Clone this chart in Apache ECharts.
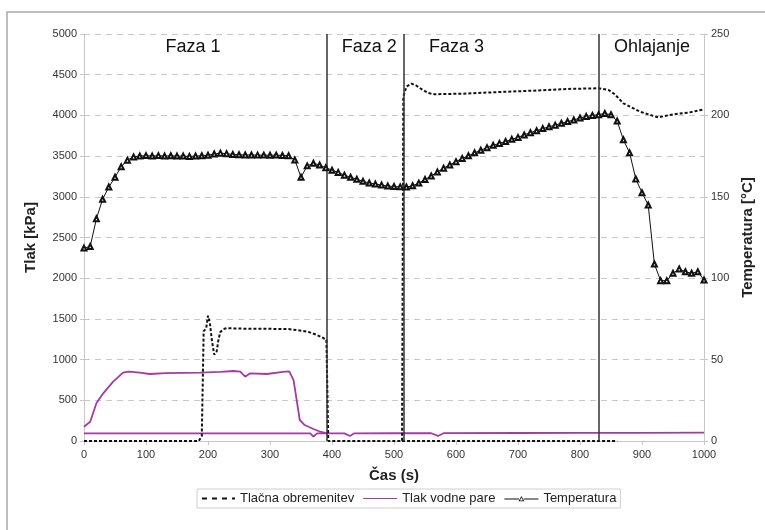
<!DOCTYPE html>
<html>
<head>
<meta charset="utf-8">
<script src="https://cdn.jsdelivr.net/npm/echarts@6/dist/echarts.min.js"></script>
<style>
html,body{margin:0;padding:0;background:#fff;}
#chart{width:765px;height:530px;}
</style>
</head>
<body>
<div id="chart"></div>
<script>
// ---- data ----
const timeTicks = [0,100,200,300,400,500,600,700,800,900,1000];
const seriesNames = ['Tlačna obremenitev','Tlak vodne pare','Temperatura'];

// Temperatura [°C], one value every 10 s from 0 to 1000 s
const tempTimes = [0,10,20,30,40,50,60,70,80,90,100,110,120,130,140,150,160,170,180,190,200,210,220,230,240,250,260,270,280,290,300,310,320,330,340,350,360,370,380,390,400,410,420,430,440,450,460,470,480,490,500,510,520,530,540,550,560,570,580,590,600,610,620,630,640,650,660,670,680,690,700,710,720,730,740,750,760,770,780,790,800,810,820,830,840,850,860,870,880,890,900,910,920,930,940,950,960,970,980,990,1000];
const tempValues = [118.5,119.5,136.5,148.5,156,162,168.5,172.5,174.5,175,175.3,175,175.3,175,175.2,175,175,174.8,175,175.2,175.5,176.3,176.8,176.5,176,175.8,175.7,175.7,175.6,175.6,175.5,175.6,175.4,175.2,172.6,162,169,170.6,169.5,167.8,166.3,165,163.3,162,160.8,159.5,158.5,157.8,157.2,156.6,156.3,156.1,156,156.8,158.4,160.6,162.8,165.2,167.6,169.6,171.6,173.6,175.2,177,178.6,180.2,181.6,182.8,184,185.3,186.5,188,189.4,190.6,191.9,193,194,195.2,196.2,197.2,198.4,199.4,200,200.4,201.2,200.4,196.5,185,177,161,152.5,145,108.7,98.5,98.5,103,105.7,104,103,104,98.9];

// Tlačna obremenitev [kPa] : [time, value]
const loadMain = [[0,0],[185,0],[190,60],[193,1350],[197,1380],[200,1540],[203,1450],[206,1250],[210,1060],[214,1100],[217,1250],[220,1340],[225,1375],[230,1385],[260,1380],[300,1378],[330,1375],[350,1355],[362,1340],[375,1305],[385,1270],[391,1240],[394,0],[513,0],[515,4230],[520,4353],[528,4390],[535,4370],[545,4320],[555,4275],[565,4260],[617,4268],[671,4288],[725,4304],[780,4325],[830,4333],[846,4312],[856,4260],[870,4148],[897,4045],[926,3976],[950,4013],[977,4037],[1000,4075]];
const loadBase = [[513,0],[860,0]];

// Tlak vodne pare [kPa] : [time, value]
const steamMain = [[0,176],[10,237],[20,463],[31,586],[47,729],[63,840],[72,852],[90,840],[106,823],[132,835],[160,838],[187,840],[220,850],[241,860],[252,852],[260,790],[268,831],[295,823],[321,848],[331,856],[338,749],[343,504],[348,258],[356,196],[370,147],[381,114],[392,94],[420,94],[429,62],[436,94],[500,95],[560,95],[571,62],[580,96],[700,98],[800,100],[900,100],[1000,104]];
const steamBase = [[0,94],[200,94],[365,94],[370,55],[376,93],[392,94]];

// phases
const phaseBounds = [392,515,830];
const phaseNames = ['Faza 1','Faza 2','Faza 3','Ohlajanje'];
const phaseLabelX = [176,460,601,916];
const phaseLabelY = 4840;

// ---- chart ----
const chart = echarts.init(document.getElementById('chart'), null, {renderer:'canvas'});
const FONT = 'Arial, "Liberation Sans", sans-serif';
const axisLabel = {color:'#333', fontSize:11, fontFamily:FONT, formatter:function(v){return String(v);}};
const lightLine = {show:true, lineStyle:{color:'#c8c8c8', width:1}};

// legend icons, tiny corner dots keep the icon box 34x10
const pad = ' M0,0h0.01v0.01h-0.01z M33.99,9.99h0.01v0.01h-0.01z';
const dashIcon = 'path://M1,4h5v2h-5z M11,4h5v2h-5z M21,4h5v2h-5z M31,4h3v2h-3z' + pad;
const thinIcon = 'path://M0,4.4h34v1.2h-34z' + pad;
const triIcon = 'path://M0,5h14.6v0.9h-14.6z M19.4,5h14.6v0.9h-14.6z M17,2.6L19.9,7.8L14.1,7.8Z M17,4.1L15.5,6.9L18.5,6.9Z' + pad;

chart.setOption({
  animation:false,
  backgroundColor:'#fff',
  textStyle:{fontFamily:FONT},
  graphic:[{type:'rect', shape:{x:7,y:12,width:800,height:600}, style:{fill:null, stroke:'#a8a8a8', lineWidth:1.5}, silent:true, z:-10}],
  legend:{
    data:[
      {name:seriesNames[0], icon:dashIcon, itemStyle:{color:'#111'}},
      {name:seriesNames[1], icon:thinIcon, itemStyle:{color:'#a43aa4'}},
      {name:seriesNames[2], icon:triIcon, itemStyle:{color:'#111', borderWidth:0}}
    ],
    left:197, top:489,
    padding:[3,4],
    itemWidth:34, itemHeight:10, itemGap:9,
    borderColor:'#cfcfcf', borderWidth:1,
    textStyle:{fontSize:13, color:'#222', fontFamily:FONT}
  },
  grid:{left:84, right:61, top:34, bottom:89, containLabel:false},
  xAxis:{
    type:'value', min:timeTicks[0], max:timeTicks[timeTicks.length-1], interval:100,
    name:'Čas (s)', nameLocation:'middle', nameGap:27,
    nameTextStyle:{fontSize:15, fontWeight:'bold', color:'#222', fontFamily:FONT},
    axisLine:lightLine, axisTick:{show:true, length:4, lineStyle:{color:'#c8c8c8'}},
    axisLabel:Object.assign({margin:8}, axisLabel),
    splitLine:{show:false}
  },
  yAxis:[{
    type:'value', min:0, max:5000, interval:500,
    name:'Tlak [kPa]', nameLocation:'middle', nameGap:46, nameRotate:90,
    nameTextStyle:{fontSize:15, fontWeight:'bold', color:'#222', fontFamily:FONT},
    axisLine:lightLine, axisTick:{show:true, length:4, lineStyle:{color:'#c8c8c8'}},
    axisLabel:Object.assign({margin:7}, axisLabel),
    splitLine:{show:true, lineStyle:{color:'#c8c8c8', width:1, type:[6,5]}}
  },{
    type:'value', min:0, max:250, interval:50, position:'right',
    name:'Temperatura [°C]', nameLocation:'middle', nameGap:35, nameRotate:90,
    nameTextStyle:{fontSize:15, fontWeight:'bold', color:'#222', fontFamily:FONT},
    axisLine:lightLine, axisTick:{show:true, length:4, lineStyle:{color:'#c8c8c8'}},
    axisLabel:Object.assign({margin:7}, axisLabel),
    splitLine:{show:false}
  }],
  series:[
    {
      name:seriesNames[0], type:'line', yAxisIndex:0,
      data:loadMain, showSymbol:false, symbol:'none',
      lineStyle:{color:'#111', width:2, type:[3,2]}, itemStyle:{color:'#111'}, z:4
    },
    {
      name:seriesNames[0], type:'line', yAxisIndex:0,
      data:loadBase, showSymbol:false, symbol:'none',
      lineStyle:{color:'#111', width:2, type:[3,2]}, itemStyle:{color:'#111'}, z:4
    },
    {
      name:seriesNames[1], type:'line', yAxisIndex:0,
      data:steamMain, showSymbol:false, symbol:'none',
      lineStyle:{color:'#a43aa4', width:1.8}, itemStyle:{color:'#a43aa4'}, z:3
    },
    {
      name:seriesNames[1], type:'line', yAxisIndex:0,
      data:steamBase, showSymbol:false, symbol:'none',
      lineStyle:{color:'#a43aa4', width:1.8}, itemStyle:{color:'#a43aa4'}, z:3
    },
    {
      name:seriesNames[2], type:'line', yAxisIndex:1,
      data:tempTimes.map((t,i)=>[t,tempValues[i]]),
      symbol:'emptyTriangle', symbolSize:5, showSymbol:true,
      lineStyle:{color:'#111', width:1}, itemStyle:{color:'#111', borderColor:'#111', borderWidth:0.8}, z:5,
      markLine:{
        silent:true, symbol:'none', animation:false,
        label:{show:false},
        lineStyle:{color:'#333', width:1.5, type:'solid'},
        data:phaseBounds.map(x=>({xAxis:x}))
      }
    },
    {
      name:'phases', type:'scatter', yAxisIndex:0, silent:true,
      symbol:'circle', symbolSize:2, itemStyle:{color:'rgba(0,0,0,0)'},
      data:phaseLabelX.map((x,i)=>({value:[x,phaseLabelY], name:phaseNames[i]})),
      label:{show:true, position:'inside', formatter:'{b}', fontSize:18, color:'#111', opacity:1, textBorderWidth:0, fontFamily:FONT},
      labelLayout:{hideOverlap:false},
      z:6
    }
  ]
});
</script>
</body>
</html>
